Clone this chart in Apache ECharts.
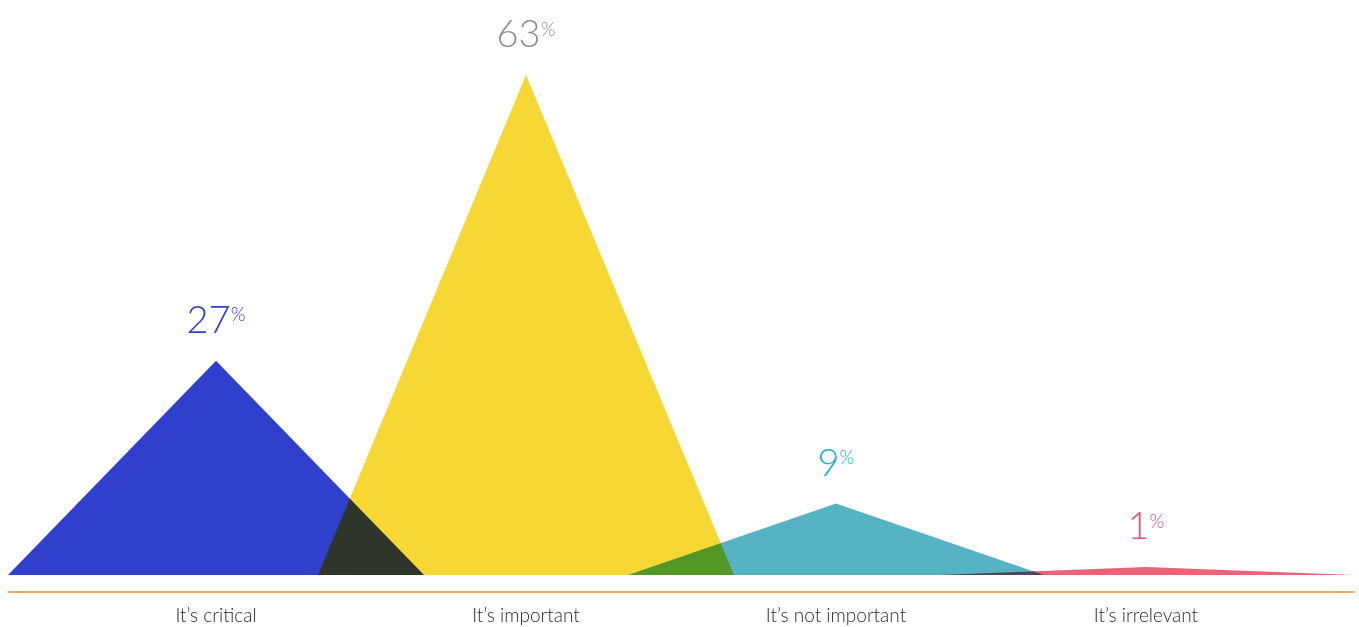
<!DOCTYPE html>
<html>
<head>
<meta charset="utf-8">
<style>
  html, body { margin: 0; padding: 0; background: #fff; }
  #chart { width: 1359px; height: 627px; }
</style>
<script src="https://cdn.jsdelivr.net/npm/echarts@6/dist/echarts.min.js"></script>
</head>
<body>
<div id="chart"></div>
<script>
// Survey answers and their shares (%)
const categories = ['It’s critical', 'It’s important', 'It’s not important', 'It’s irrelevant'];
const shares = [27, 63, 9, 1];

// Palette per answer: area fill and value label colour
const fillColors = ['#3040cc', '#f7d733', '#56b3c3', '#ec6378'];
const labelColors = ['#2f3fcc', '#8e8e8e', '#1fb3c0', '#e8506c'];

// Half base width of each peak, in category units
const HALF = 0.671;
const FONT = 'Lato, "Open Sans", sans-serif';

const chart = echarts.init(document.getElementById('chart'), null, { renderer: 'canvas' });

chart.setOption({
  backgroundColor: '#ffffff',
  animation: false,
  grid: { left: 8, right: 5, top: 19.4, bottom: 52 },
  xAxis: {
    type: 'value',
    min: -HALF,
    max: categories.length - 1 + HALF,
    offset: 17,
    splitLine: { show: false },
    axisTick: { show: false },
    axisLine: { show: true, onZero: false, lineStyle: { color: '#f28a3a', width: 1.5 } },
    axisLabel: {
      customValues: categories.map((_, i) => i),
      formatter: v => categories[Math.round(v)] || '',
      color: '#2a2a2a',
      fontFamily: FONT,
      fontWeight: 300,
      fontSize: 19,
      margin: 14
    }
  },
  yAxis: {
    type: 'value',
    min: 0,
    max: 70,
    show: false
  },
  series: [{
    type: 'custom',
    // overlapping peaks darken each other where they cross
    blendMode: 'multiply',
    data: shares.map((v, i) => [i, v]),
    renderItem: function (params, api) {
      const i = api.value(0);
      const v = api.value(1);
      const left = api.coord([i - HALF, 0]);
      const peak = api.coord([i, v]);
      const right = api.coord([i + HALF, 0]);
      return {
        type: 'group',
        children: [{
          type: 'polygon',
          shape: { points: [left, peak, right] },
          style: { fill: fillColors[i] }
        }, {
          type: 'text',
          x: peak[0],
          y: peak[1] - 21,
          style: {
            text: '{v|' + v + '}{p|%}',
            align: 'center',
            verticalAlign: 'bottom',
            rich: {
              v: { fontFamily: FONT, fontWeight: 300, fontSize: 38, lineHeight: 38, fill: labelColors[i] },
              p: { fontFamily: FONT, fontWeight: 300, fontSize: 19, lineHeight: 19, verticalAlign: 'top', fill: labelColors[i], padding: [4, 0, 0, 0] }
            }
          }
        }]
      };
    }
  }]
});
</script>
</body>
</html>
